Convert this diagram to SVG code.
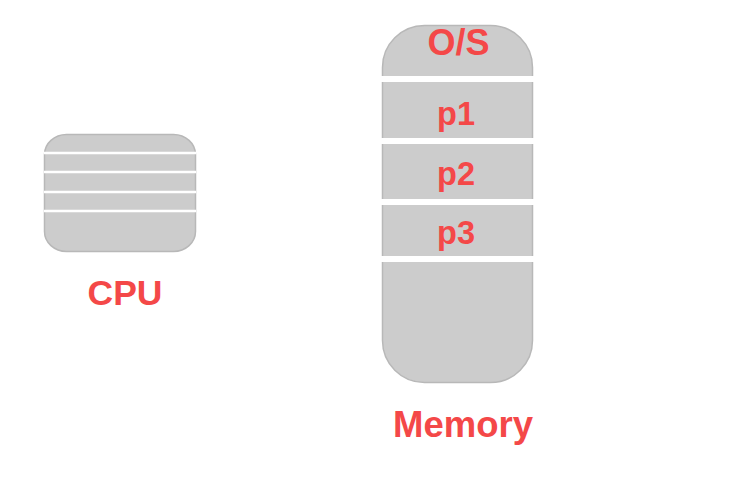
<svg xmlns="http://www.w3.org/2000/svg" width="735" height="477" viewBox="0 0 735 477">
<style>
.box{fill:#cccccc;stroke:#b8b8b8;stroke-width:1.5}
.sep{fill:#ffffff}
.ln{stroke:#ffffff;stroke-width:2.5}
.lbl{font-family:"Liberation Sans",Arial,sans-serif;font-weight:bold;fill:#f44848;text-anchor:middle}
</style>
<rect width="735" height="477" fill="#ffffff"/>
<g id="cpu">
<rect class="box" x="44.5" y="134.5" width="151" height="117" rx="22" ry="20"/>
<line class="ln" x1="44" y1="153" x2="196" y2="153"/>
<line class="ln" x1="44" y1="172" x2="196" y2="172"/>
<line class="ln" x1="44" y1="192" x2="196" y2="192"/>
<line class="ln" x1="44" y1="211" x2="196" y2="211"/>
<text class="lbl" x="125" y="304.5" font-size="35.5">CPU</text>
</g>
<g id="memory">
<rect class="box" x="382.5" y="25.5" width="150" height="357" rx="42" ry="42"/>
<rect class="sep" x="380" y="76" width="156" height="6"/>
<rect class="sep" x="380" y="138" width="156" height="6"/>
<rect class="sep" x="380" y="199" width="156" height="6"/>
<rect class="sep" x="380" y="256" width="156" height="6"/>
<text class="lbl" x="458.5" y="55" font-size="36">O/S</text>
<text class="lbl" x="456" y="125" font-size="32.5">p1</text>
<text class="lbl" x="456" y="185" font-size="32.5">p2</text>
<text class="lbl" x="456" y="244" font-size="32.5">p3</text>
<text class="lbl" x="463" y="437" font-size="36.5">Memory</text>
</g>
<g id="connectors"></g>
</svg>
